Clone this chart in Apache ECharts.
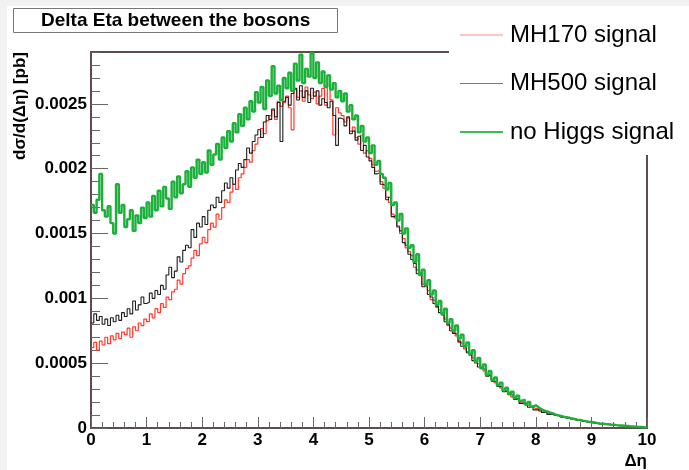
<!DOCTYPE html>
<html><head><meta charset="utf-8">
<script src="https://cdn.jsdelivr.net/npm/echarts@6/dist/echarts.min.js"></script>
<style>html,body{margin:0;padding:0;background:#fff}#c{width:689px;height:470px}</style>
</head><body><div id="c"></div>
<script>
// Histogram: 200 bins of width 0.05 between 0 and 10
const binWidth = 0.05;
const xMin = 0, xMax = 10;
const seriesNames = ['MH170 signal', 'MH500 signal', 'no Higgs signal'];

const mh170 = [
0.00062,0.00066,0.00060,0.00067,0.00064,0.00070,0.00065,0.00071,0.00068,0.00073,
0.00069,0.00074,0.00072,0.00077,0.00070,0.00078,0.00075,0.00081,0.00079,0.00084,
0.00082,0.00088,0.00085,0.00092,0.00089,0.00096,0.00093,0.00101,0.00099,0.00105,
0.00107,0.00114,0.00111,0.00119,0.00123,0.00125,0.00131,0.00137,0.00133,0.00142,
0.00147,0.00143,0.00153,0.00158,0.00155,0.00165,0.00161,0.00170,0.00176,0.00174,
0.00182,0.00188,0.00184,0.00193,0.00196,0.00201,0.00207,0.00205,0.00214,0.00219,
0.00224,0.00231,0.00227,0.00237,0.00241,0.00245,0.00238,0.00252,0.00248,0.00251,
0.00256,0.00247,0.00230,0.00261,0.00255,0.00260,0.00252,0.00263,0.00257,0.00254,
0.00259,0.00250,0.00256,0.00262,0.00249,0.00272,0.00253,0.00226,0.00247,0.00243,
0.00241,0.00236,0.00239,0.00229,0.00232,0.00224,0.00219,0.00226,0.00212,0.00214,
0.00208,0.00203,0.00198,0.00199,0.00190,0.00185,0.00178,0.00174,0.00165,0.00162,
0.00156,0.00150,0.00146,0.00139,0.00136,0.00133,0.00124,0.00122,0.00118,0.00111,
0.00109,0.00106,0.00099,0.00098,0.00093,0.00091,0.00087,0.00084,0.00079,0.00077,
0.00074,0.00071,0.00066,0.00065,0.00061,0.00059,0.00056,0.00054,0.00050,0.00049,
0.00047,0.00044,0.00041,0.00040,0.00037,0.00035,0.00033,0.00031,0.00029,0.00028,
0.00027,0.00024,0.00023,0.00022,0.00020,0.00020,0.00018,0.00017,0.00016,0.00015,
0.00015,0.00013,0.00013,0.00012,0.00011,0.00011,0.00010,0.000095,0.000088,0.000082,
0.00008,0.000074,0.00007,0.000065,0.000061,0.000058,0.000054,0.000049,0.000046,0.000042,
0.00004,0.000036,0.000034,0.000031,0.000029,0.000027,0.000025,0.000023,0.00002,0.000019,
0.000018,0.000016,0.000014,0.000012,0.000011,0.00001,0.000009,0.000007,0.000006,0.000005
];

const mh500 = [
0.00081,0.00088,0.00083,0.00086,0.00080,0.00084,0.00079,0.00085,0.00082,0.00087,
0.00083,0.00089,0.00086,0.00092,0.00088,0.00098,0.00091,0.00095,0.00101,0.00096,
0.00097,0.00104,0.00100,0.00106,0.00103,0.00110,0.00107,0.00118,0.00124,0.00116,
0.00121,0.00132,0.00128,0.00137,0.00141,0.00139,0.00153,0.00147,0.00158,0.00155,
0.00163,0.00157,0.00168,0.00172,0.00170,0.00178,0.00174,0.00183,0.00189,0.00185,
0.00193,0.00188,0.00199,0.00204,0.00201,0.00207,0.00216,0.00212,0.00221,0.00226,
0.00230,0.00224,0.00236,0.00241,0.00238,0.00246,0.00240,0.00251,0.00221,0.00252,
0.00255,0.00249,0.00258,0.00262,0.00253,0.00264,0.00255,0.00260,0.00251,0.00262,
0.00256,0.00260,0.00249,0.00254,0.00251,0.00247,0.00252,0.00241,0.00218,0.00239,
0.00238,0.00233,0.00240,0.00227,0.00229,0.00222,0.00225,0.00214,0.00218,0.00209,
0.00206,0.00201,0.00196,0.00197,0.00188,0.00187,0.00176,0.00178,0.00163,0.00164,
0.00155,0.00152,0.00143,0.00141,0.00134,0.00130,0.00127,0.00119,0.00120,0.00109,
0.00111,0.00103,0.00101,0.00096,0.00094,0.00089,0.00088,0.00082,0.00080,0.00075,
0.00073,0.00072,0.00067,0.00063,0.00062,0.00058,0.00057,0.00052,0.00051,0.00047,
0.00046,0.00045,0.00040,0.00041,0.00036,0.00036,0.00032,0.00032,0.00028,0.00029,
0.00026,0.00025,0.00022,0.00023,0.00019,0.00019,0.00019,0.00016,0.00017,0.00014,
0.00014,0.00014,0.00012,0.000125,0.000105,0.000108,0.000096,0.000098,0.000084,0.000085,
0.000077,0.000076,0.000067,0.000068,0.000059,0.000059,0.000051,0.00005,0.000044,0.000043,
0.000038,0.000037,0.000032,0.000032,0.000028,0.000026,0.000026,0.000021,0.000021,0.000018,
0.000017,0.000016,0.000013,0.000013,0.00001,0.00001,0.000008,0.000007,0.000005,0.000004
];

const noHiggs = [
0.00172,0.00166,0.00176,0.00196,0.00168,0.00163,0.00171,0.00158,0.00150,0.00188,
0.00166,0.00172,0.00155,0.00161,0.00168,0.00152,0.00164,0.00158,0.00170,0.00162,
0.00174,0.00163,0.00179,0.00168,0.00183,0.00171,0.00186,0.00177,0.00169,0.00190,
0.00178,0.00194,0.00181,0.00188,0.00198,0.00186,0.00201,0.00193,0.00207,0.00196,
0.00205,0.00197,0.00214,0.00203,0.00211,0.00219,0.00207,0.00224,0.00216,0.00229,
0.00221,0.00235,0.00228,0.00242,0.00233,0.00247,0.00238,0.00252,0.00244,0.00259,
0.00251,0.00263,0.00246,0.00268,0.00256,0.00279,0.00258,0.00264,0.00253,0.00270,
0.00262,0.00274,0.00260,0.00281,0.00268,0.00288,0.00266,0.00277,0.00271,0.00289,
0.00270,0.00282,0.00266,0.00275,0.00263,0.00272,0.00261,0.00266,0.00255,0.00260,
0.00252,0.00258,0.00244,0.00249,0.00238,0.00241,0.00228,0.00233,0.00221,0.00224,
0.00212,0.00218,0.00203,0.00206,0.00196,0.00193,0.00184,0.00189,0.00172,0.00174,
0.00160,0.00165,0.00150,0.00154,0.00139,0.00141,0.00128,0.00134,0.00118,0.00122,
0.00110,0.00114,0.00103,0.00106,0.00095,0.00098,0.00088,0.00092,0.00081,0.00084,
0.00075,0.00079,0.00069,0.00072,0.00063,0.00066,0.00057,0.00060,0.00051,0.00054,
0.00046,0.00049,0.00041,0.00044,0.00037,0.00039,0.00033,0.00035,0.00029,0.00031,
0.00026,0.00028,0.00023,0.00025,0.00021,0.00022,0.00018,0.00020,0.000165,0.000175,
0.00016,0.000145,0.000135,0.000128,0.00012,0.000115,0.000106,0.000098,0.000094,0.000087,
0.000084,0.000079,0.000073,0.000069,0.000065,0.000062,0.000057,0.000053,0.000049,0.000046,
0.000043,0.000039,0.000036,0.000034,0.000031,0.00003,0.000027,0.000025,0.000022,0.00002,
0.000019,0.000017,0.000015,0.000013,0.000012,0.000011,0.000009,0.000008,0.000006,0.000005
];

const yMax = 0.0029;
const yMajor = 0.0005;
const yMinor = 0.0001;

const FONT = '"Liberation Sans", Arial, Helvetica, sans-serif';
const frameColor = '#5e4c4c';

// step-line histogram points at bin low edges, closed at the upper edge
function histPoints(vals) {
  const pts = vals.map((v, i) => [Math.round(i * binWidth * 100) / 100, v]);
  pts.push([Math.round(vals.length * binWidth * 100) / 100, vals[vals.length - 1]]);
  return pts;
}

const chart = echarts.init(document.getElementById('c'), null, {renderer: 'canvas'});
const labelStyle = {fontFamily: FONT, fontSize: 17, fontWeight: 'bold', color: '#000'};
const hiddenSymbol = {opacity: 0, color: 'rgba(0,0,0,0)', borderWidth: 0};

chart.setOption({
  animation: false,
  backgroundColor: '#fff',
  title: {
    text: 'Delta Eta between the bosons',
    left: 13, top: 8,
    padding: [3, 28, 3, 28],
    backgroundColor: '#fff',
    borderColor: '#777', borderWidth: 1,
    textStyle: {fontFamily: FONT, fontSize: 19, fontWeight: 'bold', color: '#000'}
  },
  legend: {
    orient: 'vertical',
    left: 449, top: 7,
    padding: [16, 20, 11, 10],
    itemGap: 24.5,
    itemWidth: 43, itemHeight: 14,
    backgroundColor: '#fff',
    itemStyle: hiddenSymbol,
    textStyle: {fontFamily: FONT, fontSize: 24, color: '#000', padding: [0, 0, 0, 2]},
    data: [
      {name: seriesNames[0], itemStyle: hiddenSymbol, lineStyle: {color: '#ff8a80', width: 1.2}},
      {name: seriesNames[1], itemStyle: hiddenSymbol, lineStyle: {color: '#7a7a7a', width: 1.2}},
      {name: seriesNames[2], itemStyle: hiddenSymbol, lineStyle: {color: '#3cbd5a', width: 2}}
    ]
  },
  grid: {left: 91, right: 42, top: 52, bottom: 42, containLabel: false, outerBoundsMode: 'none'},
  xAxis: [{
    type: 'value', min: xMin, max: xMax, interval: 1, position: 'bottom',
    axisLine: {show: true, onZero: false, lineStyle: {color: frameColor, width: 2}},
    axisTick: {show: true, inside: true, length: 11, lineStyle: {color: '#666', width: 1}},
    minorTick: {show: true, splitNumber: 5, length: 6, lineStyle: {color: '#666', width: 1}},
    axisLabel: Object.assign({margin: 4}, labelStyle),
    splitLine: {show: false}
  }, {
    type: 'value', min: xMin, max: xMax, position: 'top',
    axisLine: {show: true, onZero: false, lineStyle: {color: frameColor, width: 2}},
    axisTick: {show: false}, axisLabel: {show: false}, splitLine: {show: false}
  }],
  yAxis: [{
    type: 'value', min: 0, max: yMax, interval: yMajor, position: 'left',
    axisLine: {show: true, onZero: false, lineStyle: {color: frameColor, width: 2}},
    axisTick: {show: true, inside: true, length: 17, lineStyle: {color: '#666', width: 1}},
    axisLabel: Object.assign({margin: 4, showMaxLabel: false}, labelStyle),
    splitLine: {show: false}
  }, {
    type: 'value', min: 0, max: yMax, interval: yMinor, position: 'left',
    axisLine: {show: false, onZero: false},
    axisTick: {show: true, inside: true, length: 9, lineStyle: {color: '#666', width: 1}},
    axisLabel: {show: false}, splitLine: {show: false}
  }, {
    type: 'value', min: 0, max: yMax, position: 'right',
    axisLine: {show: true, onZero: false, lineStyle: {color: frameColor, width: 2}},
    axisTick: {show: false}, axisLabel: {show: false}, splitLine: {show: false}
  }],
  graphic: [
    {type: 'rect', z: -10, shape: {x: 0, y: 0, width: 689, height: 6}, style: {fill: '#f2f2f2'}},
    {type: 'rect', z: -10, shape: {x: 0, y: 0, width: 7, height: 470}, style: {fill: '#f2f2f2'}},
    {type: 'text', x: 20, y: 106, rotation: Math.PI / 2,
     style: {text: 'dσ/d(Δη) [pb]', font: 'bold 17px ' + FONT, fill: '#000', align: 'center', verticalAlign: 'middle'}},
    {type: 'text', x: 647, y: 461,
     style: {text: 'Δη', font: 'bold 17px ' + FONT, fill: '#000', align: 'right', verticalAlign: 'middle'}}
  ],
  series: [
    {name: seriesNames[0], type: 'line', step: 'end', data: histPoints(mh170), showSymbol: false, symbol: 'none',
     lineStyle: {color: '#ff3b2e', width: 1.2}, itemStyle: {color: '#ff3b2e'}, z: 2},
    {name: seriesNames[1], type: 'line', step: 'end', data: histPoints(mh500), showSymbol: false, symbol: 'none',
     lineStyle: {color: '#1e1e1e', width: 1.1}, itemStyle: {color: '#1e1e1e'}, z: 3},
    {name: seriesNames[2], type: 'line', step: 'end', data: histPoints(noHiggs), showSymbol: false, symbol: 'none',
     lineStyle: {color: '#1bb03a', width: 2.4}, itemStyle: {color: '#1bb03a'}, z: 4}
  ]
});
</script>
</body></html>
